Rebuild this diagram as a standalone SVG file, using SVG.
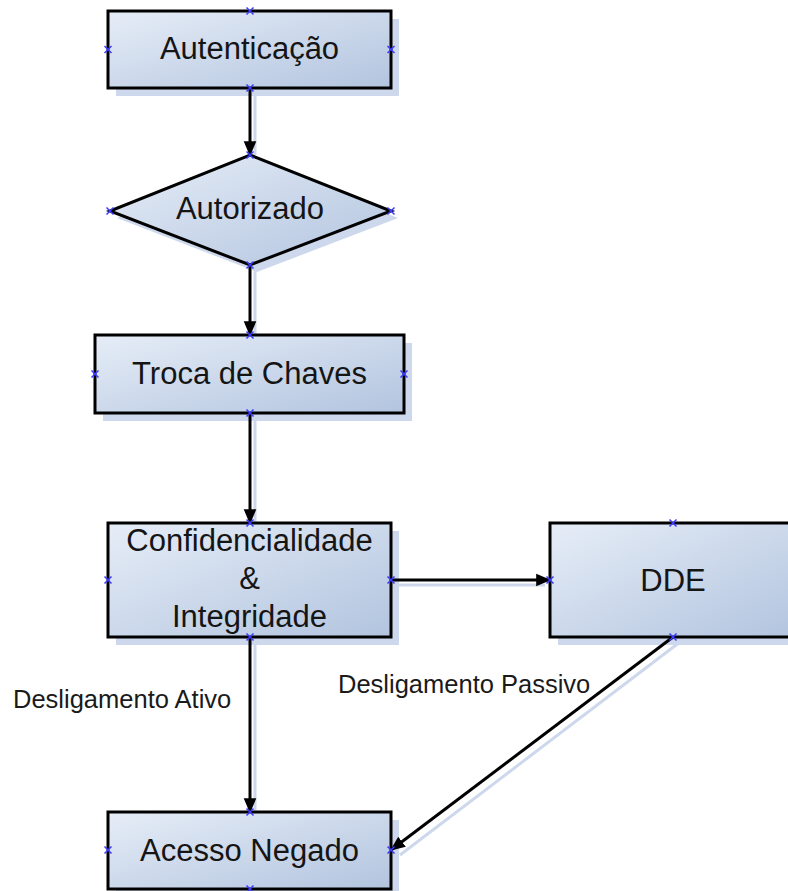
<svg xmlns="http://www.w3.org/2000/svg" width="788" height="891" viewBox="0 0 788 891">
<defs>
<linearGradient id="fill" x1="0" y1="0" x2="1" y2="1">
<stop offset="0" stop-color="#e6edf7"/>
<stop offset="1" stop-color="#b2c4df"/>
</linearGradient>
<marker id="arr" markerWidth="5" markerHeight="5" refX="4.6" refY="2.5" orient="auto" markerUnits="strokeWidth">
<path d="M0,0.4 L5,2.5 L0,4.6 Z" fill="#000"/>
</marker>
<path id="x" d="M-3.5,-3.5 L3.5,3.5 M-3.5,3.5 L3.5,-3.5"/>
</defs>
<style>
.shape{fill:url(#fill);stroke:#000;stroke-width:3}
.shadow{fill:#cdd8ec;stroke:none}
.t{font-family:"Liberation Sans",Arial,sans-serif;font-size:31px;fill:#151515;text-anchor:middle}
.lbl{font-family:"Liberation Sans",Arial,sans-serif;font-size:25.5px;fill:#1a1a1a}
.c{stroke:#000;stroke-width:3;fill:none;marker-end:url(#arr)}
.cs{stroke:#cdd8ec;stroke-width:3;fill:none}
.pt{stroke:#3c3cff;stroke-width:1.5;fill:none}
</style>
<g id="connectors-shadow">
<line class="cs" x1="255" y1="93" x2="255" y2="155"/>
<line class="cs" x1="255" y1="270" x2="255" y2="335"/>
<line class="cs" x1="255" y1="418" x2="255" y2="523"/>
<line class="cs" x1="396" y1="585" x2="545" y2="585"/>
<line class="cs" x1="255" y1="642" x2="255" y2="812"/>
<line class="cs" x1="680" y1="642" x2="400" y2="855"/>
</g>
<g id="n1">
<rect class="shadow" x="116" y="19" width="283" height="77"/>
<rect class="shape" x="108" y="11" width="283" height="77"/>
<text class="t" x="249.5" y="59">Autenticação</text>
</g>
<g id="n2">
<polygon class="shadow" points="257,162 398,218 257,272 117,218"/>
<polygon class="shape" points="250,155 391,211 250,265 110,211"/>
<text class="t" x="250" y="219">Autorizado</text>
</g>
<g id="n3">
<rect class="shadow" x="103" y="343" width="309" height="78"/>
<rect class="shape" x="95" y="335" width="309" height="78"/>
<text class="t" x="249.5" y="384">Troca de Chaves</text>
</g>
<g id="n4">
<rect class="shadow" x="116" y="531" width="283" height="114"/>
<rect class="shape" x="108" y="523" width="283" height="114"/>
<text class="t" x="249.5" y="551">Confidencialidade</text>
<text class="t" x="249.5" y="589">&amp;</text>
<text class="t" x="249.5" y="627">Integridade</text>
</g>
<g id="n5">
<rect class="shadow" x="558" y="531" width="246" height="114"/>
<rect class="shape" x="550" y="523" width="246" height="114"/>
<text class="t" x="673" y="591">DDE</text>
</g>
<g id="n6">
<rect class="shadow" x="116" y="820" width="283" height="77"/>
<rect class="shape" x="108" y="812" width="283" height="77"/>
<text class="t" x="249.5" y="861">Acesso Negado</text>
</g>
<g id="connectors">
<line class="c" x1="250" y1="88" x2="250" y2="155"/>
<line class="c" x1="250" y1="265" x2="250" y2="335"/>
<line class="c" x1="250" y1="413" x2="250" y2="523"/>
<line class="c" x1="391" y1="580" x2="550" y2="580"/>
<line class="c" x1="250" y1="637" x2="250" y2="812"/>
<line class="c" x1="673" y1="637" x2="391" y2="850"/>
</g>
<g id="labels">
<text class="lbl" x="13" y="708">Desligamento Ativo</text>
<text class="lbl" x="338" y="693">Desligamento Passivo</text>
</g>
<g id="points">
<use href="#x" class="pt" x="250" y="11"/><use href="#x" class="pt" x="108" y="49.5"/><use href="#x" class="pt" x="391" y="49.5"/><use href="#x" class="pt" x="250" y="88"/>
<use href="#x" class="pt" x="250" y="155"/><use href="#x" class="pt" x="110" y="211"/><use href="#x" class="pt" x="391" y="211"/><use href="#x" class="pt" x="250" y="265"/>
<use href="#x" class="pt" x="250" y="335"/><use href="#x" class="pt" x="95" y="374"/><use href="#x" class="pt" x="404" y="374"/><use href="#x" class="pt" x="250" y="413"/>
<use href="#x" class="pt" x="250" y="523"/><use href="#x" class="pt" x="108" y="580"/><use href="#x" class="pt" x="391" y="580"/><use href="#x" class="pt" x="250" y="637"/>
<use href="#x" class="pt" x="673" y="523"/><use href="#x" class="pt" x="550" y="580"/><use href="#x" class="pt" x="673" y="637"/>
<use href="#x" class="pt" x="250" y="812"/><use href="#x" class="pt" x="108" y="850"/><use href="#x" class="pt" x="391" y="850"/><use href="#x" class="pt" x="250" y="889"/>
</g>
</svg>
